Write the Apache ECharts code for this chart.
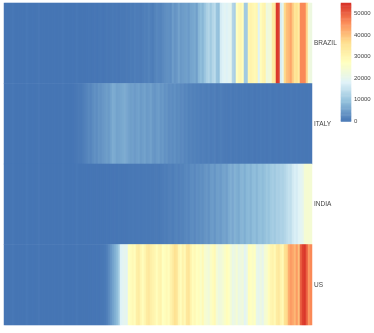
<!DOCTYPE html>
<html>
<head>
<meta charset="utf-8">
<style>html,body{margin:0;padding:0;background:#fff}#c{width:374px;height:333px}</style>
<script src="https://cdn.jsdelivr.net/npm/echarts@6/dist/echarts.min.js"></script>
</head>
<body>
<div id="c"></div>
<script>
const countries = ['BRAZIL', 'ITALY', 'INDIA', 'US'];
const legendTicks = [0, 10000, 20000, 30000, 40000, 50000];
const colors = ['#4575B4', '#91BFDB', '#E0F3F8', '#FFFFBF', '#FEE090', '#FC8D59', '#D73027'];
const maxValue = 54700;
const legendSteps = 100;

const brazil = [
  60,120,40,80,400,90,30,110,60,100,
  50,380,70,30,120,60,90,420,40,80,
  90,50,110,40,70,120,30,90,60,380,
  80,30,100,50,120,60,400,70,40,110,
  60,120,250,100,150,300,120,220,400,180,
  250,500,300,350,600,400,550,300,650,450,
  500,800,600,1000,750,1200,900,1000,800,1100,
  1500,1200,1800,1300,1000,1700,2300,2000,1800,2500,
  3000,3300,3400,3000,4800,3800,4200,5600,4300,4800,
  5000,5300,4600,5800,6000,6500,5200,8000,9000,8000,
  10000,12000,13000,11000,13000,14000,10000,9500,17000,18000,
  19000,18000,19000,20000,13000,12000,27000,29000,30000,28000,
  11000,11000,30000,31000,30000,29000,30000,18000,28000,30000,
  31000,22000,23000,24000,33000,34000,54000,53000,17000,20000,
  37000,40000,41000,43000,39000,35000,36000,33000,46000,46000,
  46000,38000,24000,22000
];
const italy = [
  60,120,40,80,400,90,30,110,60,100,
  50,380,70,30,120,60,90,420,40,80,
  90,50,110,40,70,120,30,90,60,380,
  80,30,100,50,120,300,500,800,600,1000,
  1400,1800,2500,2000,2800,3500,3000,4000,3600,4200,
  4500,5000,4500,5500,6800,6500,5500,5800,6000,6400,
  6800,6200,5500,5000,5300,4700,5200,5500,4500,5000,
  5500,4500,4800,5400,4300,4000,4600,4900,4000,4400,
  3500,3800,3000,3200,2800,3400,2600,2900,2400,2700,
  2000,2300,1600,1900,1500,1700,1300,1500,1100,1400,
  1200,1000,1300,900,1100,1400,800,1000,1200,900,
  700,800,600,900,500,700,800,450,650,700,
  450,600,350,500,650,300,550,400,600,350,
  500,300,450,600,250,400,500,300,350,450,
  250,400,300,500,350,300,450,250,400,300,
  350,250,400,300
];
const india = [
  60,120,40,80,400,90,30,110,60,100,
  50,380,70,30,120,60,90,420,40,80,
  90,50,110,40,70,120,30,90,60,380,
  80,30,100,50,120,60,400,70,40,110,
  80,120,60,150,90,100,180,70,140,110,
  150,200,120,250,180,300,160,350,220,280,
  300,250,380,320,450,350,420,500,380,480,
  500,600,450,650,550,700,800,650,750,900,
  1200,1000,1400,1500,1100,1600,1800,1400,1900,1700,
  2200,2500,2000,2800,3000,2400,3200,2900,3500,3100,
  3800,4200,3500,4500,4800,4000,5000,5200,4600,5500,
  5800,5200,6500,7200,6200,7500,7000,6400,7800,8000,
  7000,8200,8500,7500,8800,9000,8000,9200,9500,8700,
  9500,10500,9800,11000,11500,10800,12000,11800,12500,12200,
  13000,14000,15000,14500,16500,17500,17000,18500,19000,20000,
  24000,24500,24500,24000
];
const us = [
  60,120,40,80,400,90,30,110,60,100,
  50,380,70,30,120,60,90,420,40,80,
  90,50,110,40,70,120,30,90,60,380,
  80,30,100,50,120,60,400,70,40,110,
  100,60,140,90,180,120,220,150,300,350,
  600,1200,2500,4000,5500,7000,8500,11000,18000,19000,
  20000,19000,27000,28000,29000,28000,32000,33000,30000,28000,
  30000,33000,34000,32000,31000,30000,28000,30000,31000,27000,
  28000,29000,28000,31000,33000,36000,35000,30000,28000,31000,
  29000,34000,35000,31000,28000,29000,27000,28000,26000,29000,
  25000,24000,23000,26000,28000,29000,24000,22000,23000,24000,
  26000,28000,27000,24000,21000,22000,24000,21000,22000,23000,
  19000,21000,28000,27000,26000,27000,21000,20000,22000,20000,
  24000,25000,28000,30000,31000,29000,33000,34000,31000,29000,
  36000,37000,42000,44000,43000,41000,44000,40000,50000,53000,
  54000,50000,44000,46000
];

const rows = [brazil, italy, india, us];
const days = brazil.map((_, i) => String(i));
const cells = [];
rows.forEach((vals, r) => vals.forEach((v, i) => cells.push([i, countries[r], v])));

const stepLabels = [];
const legendCells = [];
for (let i = 0; i < legendSteps; i++) {
  const v = (i + 0.5) / legendSteps * maxValue;
  stepLabels.push(String(i));
  legendCells.push([0, String(i), v]);
}

const chart = echarts.init(document.getElementById('c'), null, {renderer: 'canvas'});
const labelFont = {fontFamily: 'Liberation Sans', fontSize: 6.5, color: '#444'};
chart.setOption({
  animation: false,
  backgroundColor: '#fff',
  grid: [
    {left: 4, top: 3, width: 308, height: 322},
    {left: 341, top: 3, width: 10, height: 118.5}
  ],
  xAxis: [
    {type: 'category', data: days, gridIndex: 0, show: false},
    {type: 'category', data: ['scale'], gridIndex: 1, show: false}
  ],
  yAxis: [
    {
      type: 'category', gridIndex: 0, inverse: true, data: countries, position: 'right',
      axisLine: {show: false}, axisTick: {show: false}, splitLine: {show: false}, splitArea: {show: false},
      axisLabel: Object.assign({margin: 2}, labelFont)
    },
    {
      type: 'category', gridIndex: 1, data: stepLabels, show: false
    },
    {
      type: 'value', gridIndex: 1, position: 'right', min: 0, max: maxValue,
      axisLine: {show: false}, axisTick: {show: false}, splitLine: {show: false},
      axisLabel: Object.assign({margin: 3, customValues: legendTicks, formatter: v => String(v)}, labelFont, {fontSize: 6})
    }
  ],
  visualMap: {
    show: false, type: 'continuous', seriesIndex: [0, 1], dimension: 2, min: 0, max: maxValue,
    inRange: {color: colors}, outOfRange: {color: colors}
  },
  series: [
    {
      type: 'heatmap', xAxisIndex: 0, yAxisIndex: 0, data: cells,
      progressive: 0, itemStyle: {borderWidth: 0}, emphasis: {disabled: true}
    },
    {
      type: 'heatmap', xAxisIndex: 1, yAxisIndex: 1, data: legendCells,
      progressive: 0, itemStyle: {borderWidth: 0}, emphasis: {disabled: true}
    }
  ]
});
</script>
</body>
</html>
